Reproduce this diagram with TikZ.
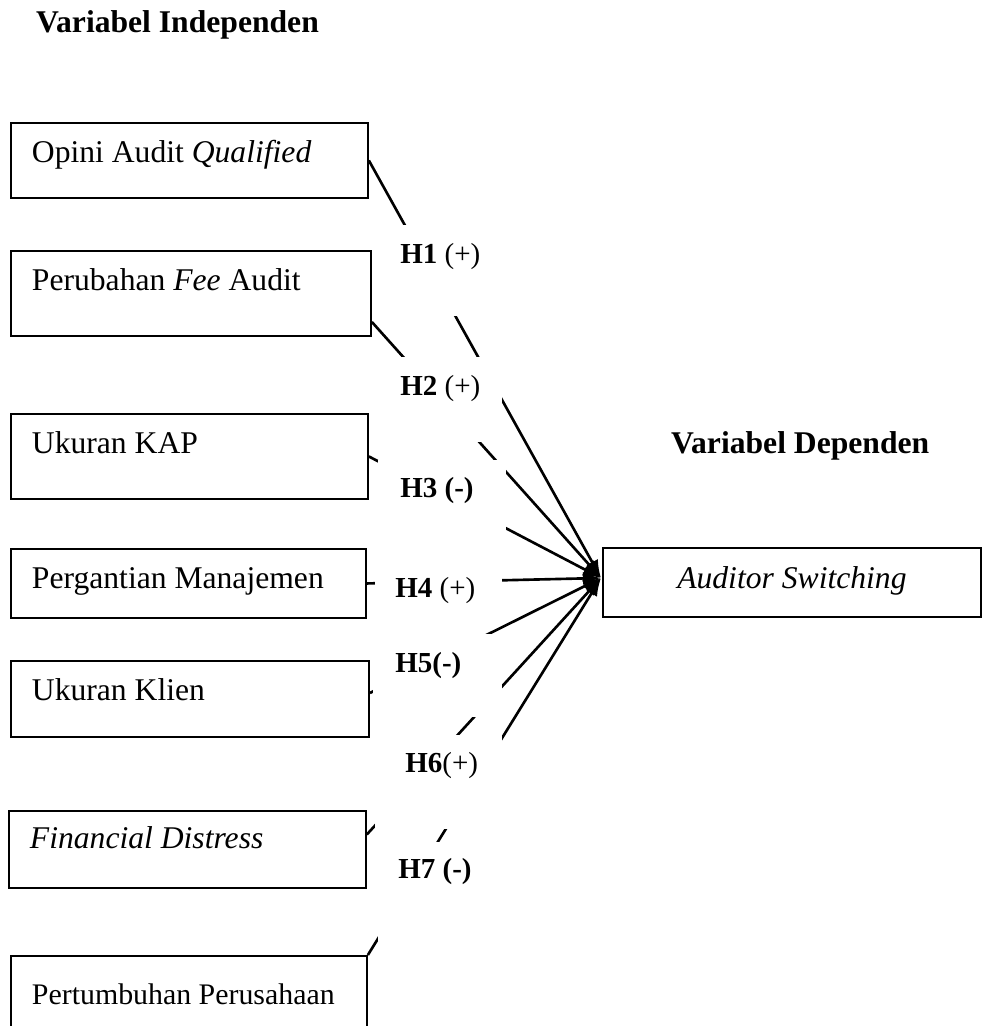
\documentclass[tikz,border=0pt]{standalone}
\usepackage{fontspec}
\setmainfont{Liberation Serif}
\usetikzlibrary{arrows.meta}

\begin{document}
\begin{tikzpicture}[x=0.02cm, y=-0.02cm,
    varbox/.style={draw, line width=1.1pt, anchor=north west, inner xsep=0.42cm, inner ysep=0pt,
      text width=6.3cm, align=flush left, text height=0.8cm, font=\fontsize{18}{22}\selectfont},
    hlabel/.style={fill=white, anchor=north west, inner sep=0pt, align=flush left,
      font=\fontsize{16.5}{20}\selectfont},
    link/.style={->, >={Latex[length=0.36cm, width=0.26cm]}, line width=1.5pt}]
  \clip (0,0) rectangle (982,1026);

  % judul
  \node[anchor=base west, font=\bfseries\fontsize{18}{22}\selectfont] (indep) at (30,33) {Variabel Independen};
  \node[anchor=base west, font=\bfseries\fontsize{18}{22}\selectfont] (dep) at (665,453) {Variabel Dependen};

  % variabel independen
  \node[varbox, text depth=0.7cm] (opini) at (10,122) {Opini Audit \textit{Qualified}};
  \node[varbox, text width=6.36cm, text depth=0.9cm] (fee) at (10,250) {Perubahan \textit{Fee} Audit};
  \node[varbox, text depth=0.9cm] (kap) at (10,413) {Ukuran KAP};
  \node[varbox, text width=6.26cm, text depth=0.58cm] (manajemen) at (10,548) {Pergantian Manajemen};
  \node[varbox, text width=6.32cm, text depth=0.72cm] (klien) at (10,660) {Ukuran Klien};
  \node[varbox, text height=0.76cm, text depth=0.78cm] (distress) at (8,810) {\textit{Financial Distress}};
  \node[varbox, text width=6.28cm, text height=0.98cm, text depth=1.2cm,
    font=\fontsize{17}{21}\selectfont] (pertumbuhan) at (10,955) {Pertumbuhan Perusahaan};

  % variabel dependen
  \node[varbox, inner xsep=0pt, text width=7.56cm, align=flush center, text height=0.82cm, text depth=0.56cm] (switching) at (602,547) {\textit{Auditor Switching}};

  \coordinate (tip) at (601,578);

  \draw[link] (opini.east) -- (tip);
  \draw[link] ([yshift=-0.57cm]fee.east) -- (tip);
  \draw[link] (kap.east) -- (tip);
  \draw[link] (manajemen.east) -- (tip);
  \draw[link] ([yshift=0.12cm]klien.east) -- (tip);
  \draw[link] ([yshift=0.3cm]distress.east) -- (tip);
  \draw[link] (pertumbuhan.north east) -- (tip);

  % hipotesis
  \node[hlabel, text width=2.54cm, text height=0.76cm, text depth=1.06cm] (h1) at (375,225) {\hspace*{0.5cm}\textbf{H1} (+)};
  \node[hlabel, text width=2.54cm, text height=0.76cm, text depth=0.94cm] (h2) at (375,357) {\hspace*{0.5cm}\textbf{H2} (+)};
  \node[hlabel, text width=2.56cm, text height=0.74cm, text depth=0.86cm] (h3) at (378,460) {\hspace*{0.44cm}\textbf{H3 (-)}};
  \node[hlabel, text width=2.54cm, text height=0.74cm, text depth=0.54cm] (h4) at (375,560) {\hspace*{0.4cm}\textbf{H4} (+)};
  \node[hlabel, text width=2.58cm, text height=0.76cm, text depth=0.9cm] (h5) at (373,634) {\hspace*{0.44cm}\textbf{H5(-)}};
  \node[hlabel, text width=2.54cm, text height=0.74cm, text depth=1.14cm] (h6) at (375,735) {\hspace*{0.6cm}\textbf{H6}(+)};
  \node[hlabel, text width=2.48cm, text height=0.72cm, text depth=1.28cm] (h7) at (378,842) {\hspace*{0.4cm}\textbf{H7 (-)}};
\end{tikzpicture}
\end{document}
